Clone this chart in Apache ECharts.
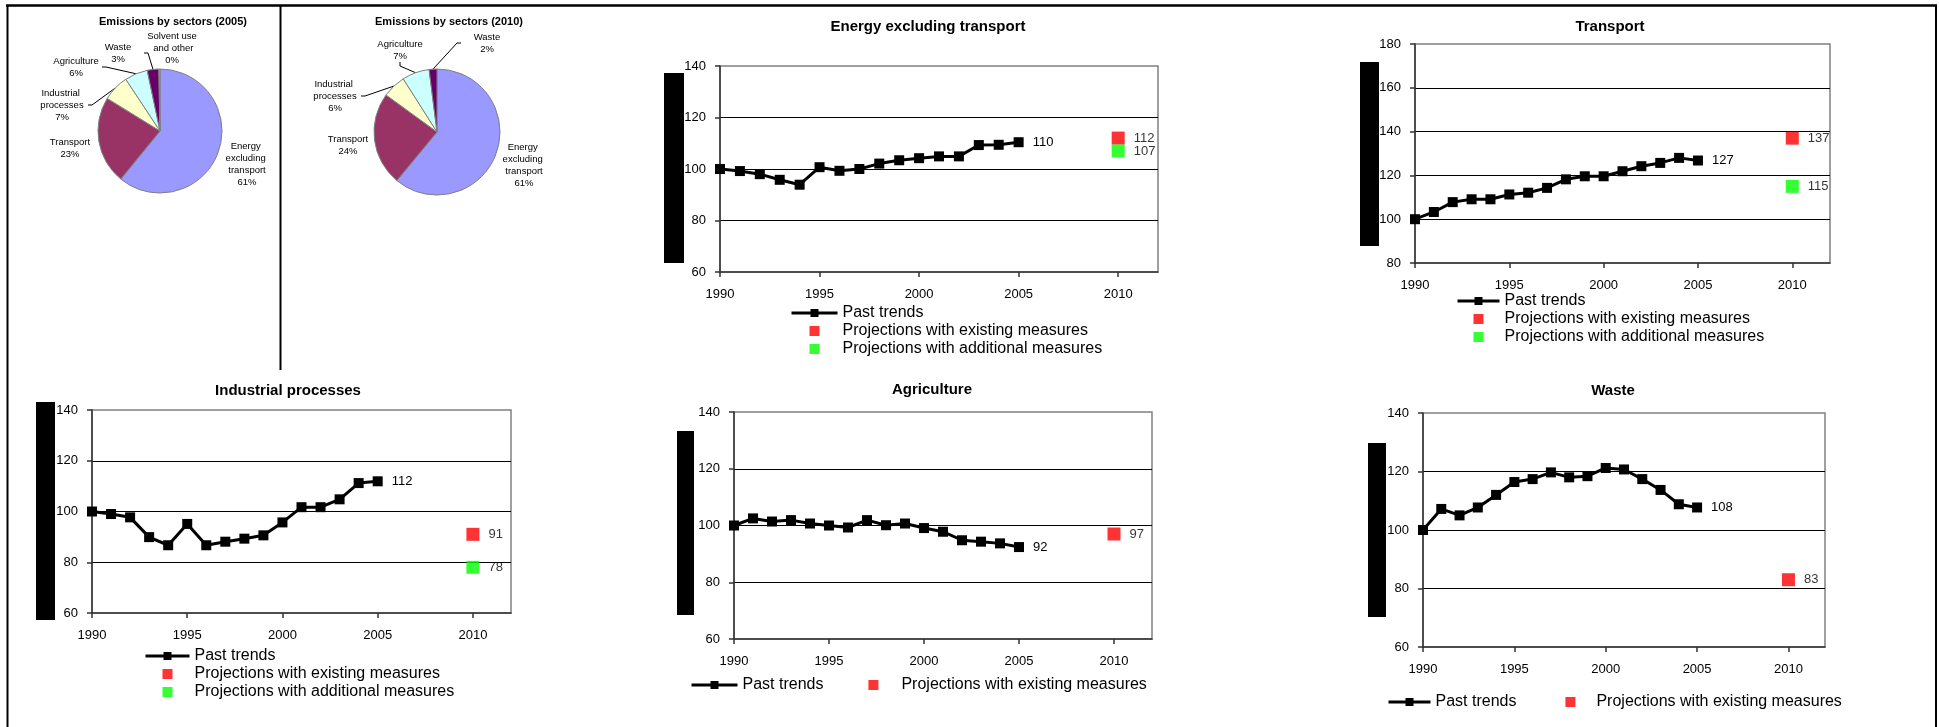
<!DOCTYPE html>
<html><head><meta charset="utf-8">
<script src="https://cdn.jsdelivr.net/npm/echarts@6/dist/echarts.min.js"></script>
<style>html,body{margin:0;padding:0;background:#fff}#c{width:1939px;height:727px}</style>
</head><body><div id="c"></div>
<script>
// ---------------- DATA ----------------
const years = [1990,1991,1992,1993,1994,1995,1996,1997,1998,1999,2000,2001,2002,2003,2004,2005];
const tickYears = [1990,1995,2000,2005,2010];
const projectionYear = 2010;

const energyPast      = [100, 99.2, 98.0, 95.8, 93.9, 100.7, 99.3, 100.0, 102.1, 103.4, 104.2, 104.9, 104.9, 109.3, 109.4, 110.4];
const energyExisting = 112, energyAdditional = 107;

const transportPast   = [100, 103.3, 107.8, 109.1, 109.1, 111.3, 112.1, 114.3, 118.2, 119.6, 119.6, 121.9, 124.2, 125.7, 128.0, 126.8];
const transportExisting = 137, transportAdditional = 115;

const industrialPast  = [100, 99.0, 97.7, 89.9, 86.7, 95.1, 86.7, 88.1, 89.3, 90.6, 95.7, 101.7, 101.7, 104.8, 111.2, 111.9];
const industrialExisting = 91, industrialAdditional = 78;

const agriculturePast = [100, 102.5, 101.4, 101.9, 100.7, 100.0, 99.3, 101.9, 100.1, 100.7, 99.1, 97.8, 94.8, 94.3, 93.7, 92.4];
const agricultureExisting = 97;

const wastePast       = [100, 107.2, 105.0, 107.7, 112.0, 116.4, 117.4, 119.7, 118.0, 118.4, 121.2, 120.7, 117.4, 113.7, 108.8, 107.7];
const wasteExisting = 83;

const sectors2005 = ['Energy excluding transport','Transport','Industrial processes','Agriculture','Waste','Solvent use and other'];
const share2005   = [60.9, 22.9, 6.9, 6.0, 3.0, 0.3];
const sectors2010 = ['Energy excluding transport','Transport','Industrial processes','Agriculture','Waste'];
const share2010   = [61, 24, 6, 7, 2];

const seriesNames = ['Past trends','Projections with existing measures','Projections with additional measures'];

// ---------------- STYLE / LAYOUT ----------------
const FONT = "'Liberation Sans', Arial, Helvetica, sans-serif";
const sectorColors = {
  'Energy excluding transport':'#9999FF','Transport':'#993366','Industrial processes':'#FFFFCC',
  'Agriculture':'#CCFFFF','Waste':'#660066','Solvent use and other':'#FF8080'
};
const noLeader = {'Energy excluding transport':true,'Transport':true,'Solvent use and other':true};
const labelPos2005 = [[247,164],[70,148],[62,105],[76,67],[118,53],[172,48]];
const labelPos2010 = [[524,165],[348,145],[335,96],[400,50],[487,43]];
const squareIcon = 'path://M0 0H10V10H0Z';

const panels = [
 {title:'Energy excluding transport', past:energyPast, existing:energyExisting, additional:energyAdditional, yRange:[60,140],
  grid:{left:720, top:66, width:438, height:206}, titleAt:[928,27], bar:[664,73,20,190],
  legend:{orient:'vertical', left:790, top:305, itemWidth:46, itemGap:2}},
 {title:'Transport', past:transportPast, existing:transportExisting, additional:transportAdditional, yRange:[80,180],
  grid:{left:1415, top:44, width:415, height:219}, titleAt:[1610,27], bar:[1360,62,19,184],
  legend:{orient:'vertical', left:1456, top:293, itemWidth:42, itemGap:2}},
 {title:'Industrial processes', past:industrialPast, existing:industrialExisting, additional:industrialAdditional, yRange:[60,140],
  grid:{left:92, top:410, width:419, height:203}, titleAt:[288,391], bar:[36,402,19,218],
  legend:{orient:'vertical', left:144, top:648, itemWidth:44, itemGap:2}},
 {title:'Agriculture', past:agriculturePast, existing:agricultureExisting, additional:null, yRange:[60,140],
  grid:{left:734, top:412, width:418, height:227}, titleAt:[932,390], bar:[677,431,17,184],
  legend:{orient:'horizontal', left:690, top:677, itemWidth:46, itemGap:45}},
 {title:'Waste', past:wastePast, existing:wasteExisting, additional:null, yRange:[60,140],
  grid:{left:1423, top:413, width:402, height:234}, titleAt:[1613,391], bar:[1368,443,18,174],
  legend:{orient:'horizontal', left:1387, top:694, itemWidth:42, itemGap:49}}
];

const roundFmt = p => String(Math.round(Array.isArray(p.value) ? p.value[1] : p.value));
const axisCol = '#333';

const option = {
  animation:false,
  backgroundColor:'#fff',
  title:[], grid:[], xAxis:[], yAxis:[], legend:[], series:[], graphic:[]
};

option.title.push({text:'Emissions by sectors (2005)', left:173, top:22, textAlign:'center', textVerticalAlign:'middle', padding:0,
  textStyle:{fontSize:11, fontWeight:'bold', fontFamily:FONT, color:'#000'}});
option.title.push({text:'Emissions by sectors (2010)', left:449, top:22, textAlign:'center', textVerticalAlign:'middle', padding:0,
  textStyle:{fontSize:11, fontWeight:'bold', fontFamily:FONT, color:'#000'}});

function pieSeries(names, shares, center, radius, labelPos){
  return {
    type:'pie', center:center, radius:radius, startAngle:90, clockwise:true, percentPrecision:0,
    avoidLabelOverlap:false, silent:true,
    data: names.map((n,k)=>({name:n, value:shares[k], itemStyle:{color:sectorColors[n]},
      labelLine:{show:!noLeader[n]}})),
    itemStyle:{borderColor:'#808080', borderWidth:1},
    label:{show:true, formatter:'{b}\n{d}%', width:52, overflow:'break', fontSize:9.5, lineHeight:12,
      color:'#000', fontFamily:FONT, align:'center'},
    labelLine:{show:true, length:4, length2:4, smooth:false, lineStyle:{color:'#000', width:1}},
    labelLayout: function(p){ const pos = labelPos[p.dataIndex]; return {x:pos[0], y:pos[1], align:'center', verticalAlign:'middle'}; },
    emphasis:{disabled:true}
  };
}
option.series.push(pieSeries(sectors2005, share2005, [160,131], 62, labelPos2005));
option.series.push(pieSeries(sectors2010, share2010, [437,132], 63, labelPos2010));

panels.forEach((pn, i) => {
  option.title.push({text:pn.title, left:pn.titleAt[0], top:pn.titleAt[1], textAlign:'center', textVerticalAlign:'middle', padding:0,
    textStyle:{fontSize:15, fontWeight:'bold', fontFamily:FONT, color:'#000'}});
  option.grid.push(Object.assign({show:true, borderColor:'#808080', borderWidth:1.5, backgroundColor:'transparent', containLabel:false}, pn.grid));
  option.xAxis.push({type:'value', gridIndex:i, min:1990, max:2012, interval:5,
    axisLine:{show:true, onZero:false, lineStyle:{color:axisCol, width:1.5}},
    axisTick:{show:true, length:5, customValues:tickYears, lineStyle:{color:axisCol, width:1.5}},
    axisLabel:{margin:16, fontSize:13, color:'#000', fontFamily:FONT, customValues:tickYears, formatter: v => String(v)},
    splitLine:{show:false}});
  option.yAxis.push({type:'value', gridIndex:i, min:pn.yRange[0], max:pn.yRange[1], interval:20,
    axisLine:{show:true, onZero:false, lineStyle:{color:axisCol, width:1.5}},
    axisTick:{show:true, length:5, lineStyle:{color:axisCol, width:1.5}},
    axisLabel:{margin:14, fontSize:13, color:'#000', fontFamily:FONT},
    splitLine:{show:true, showMaxLine:false, showMinLine:false, lineStyle:{color:'#000', width:1}}});

  option.series.push({type:'line', name:seriesNames[0], xAxisIndex:i, yAxisIndex:i,
    data: years.map((y,k)=>[y, pn.past[k]]), symbol:'rect', symbolSize:10, showSymbol:true,
    lineStyle:{color:'#000', width:3}, itemStyle:{color:'#000'}, z:3, silent:true,
    endLabel:{show:true, formatter:roundFmt, distance:14, fontSize:13, color:'#000', fontFamily:FONT}});
  option.series.push({type:'scatter', name:seriesNames[1], xAxisIndex:i, yAxisIndex:i,
    data:[[projectionYear, pn.existing]], symbol:'rect', symbolSize:13, itemStyle:{color:'#FF0000'}, silent:true,
    label:{show:true, position:'right', distance:9, formatter:roundFmt, fontSize:13, color:'#000', fontFamily:FONT}});
  const legendData = [{name:seriesNames[0]}, {name:seriesNames[1], icon:squareIcon}];
  if (pn.additional !== null) {
    option.series.push({type:'scatter', name:seriesNames[2], xAxisIndex:i, yAxisIndex:i,
      data:[[projectionYear, pn.additional]], symbol:'rect', symbolSize:13, itemStyle:{color:'#00FF00'}, silent:true,
      label:{show:true, position:'right', distance:9, formatter:roundFmt, fontSize:13, color:'#000', fontFamily:FONT}});
    legendData.push({name:seriesNames[2], icon:squareIcon});
  }
  option.legend.push(Object.assign({data:legendData, selectedMode:false, padding:0, itemHeight:10, symbolKeepAspect:true,
    lineStyle:{width:3},
    textStyle:{fontSize:16, color:'#000', fontFamily:FONT}}, pn.legend));

  const b = pn.bar;
  option.graphic.push({type:'rect', shape:{x:b[0], y:b[1], width:b[2], height:b[3]}, style:{fill:'#000'}, silent:true});
});

// page frame
option.graphic.push({type:'line', shape:{x1:6, y1:5.5, x2:1937, y2:5.5}, style:{stroke:'#000', lineWidth:2.5}, silent:true});
option.graphic.push({type:'line', shape:{x1:7.5, y1:5, x2:7.5, y2:727}, style:{stroke:'#000', lineWidth:2}, silent:true});
option.graphic.push({type:'line', shape:{x1:1936, y1:5, x2:1936, y2:727}, style:{stroke:'#000', lineWidth:2}, silent:true});
option.graphic.push({type:'line', shape:{x1:280.5, y1:5, x2:280.5, y2:370}, style:{stroke:'#000', lineWidth:2}, silent:true});

const chart = echarts.init(document.getElementById('c'), null, {renderer:'canvas'});
chart.setOption(option);
</script>
</body></html>
